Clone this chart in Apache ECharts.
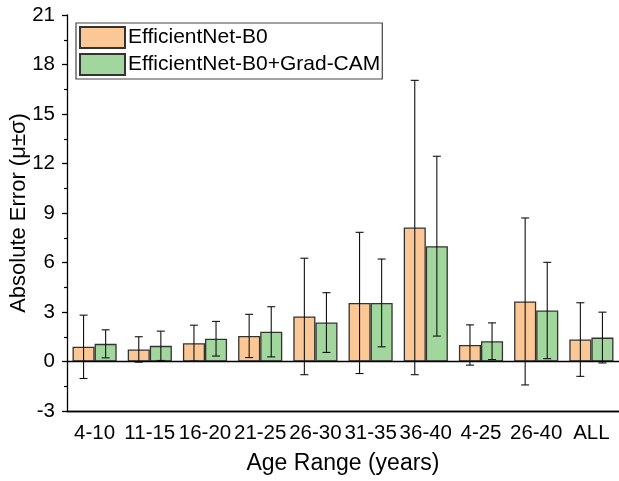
<!DOCTYPE html>
<html>
<head>
<meta charset="utf-8">
<script src="https://cdn.jsdelivr.net/npm/echarts@6/dist/echarts.min.js"></script>
<style>html,body{margin:0;padding:0;background:#fff;}#c{width:619px;height:481px;}</style>
</head>
<body>
<div id="c"></div>
<script>
const categories = ['4-10','11-15','16-20','21-25','26-30','31-35','36-40','4-25','26-40','ALL'];
const seriesNames = ['EfficientNet-B0','EfficientNet-B0+Grad-CAM'];
const b0Mean  = [0.89, 0.73, 1.11, 1.55, 2.73, 3.55, 8.12, 1.00, 3.64, 1.33];
const b0Std   = [1.92, 0.77, 1.09, 1.31, 3.53, 4.28, 8.92, 1.22, 5.06, 2.23];
const camMean = [1.07, 0.95, 1.38, 1.80, 2.36, 3.55, 6.99, 1.23, 3.09, 1.45];
const camStd  = [0.85, 0.89, 1.05, 1.52, 1.81, 2.66, 5.45, 1.11, 2.92, 1.54];
const yTicks = [-3, 0, 3, 6, 9, 12, 15, 18, 21];

const FONT = 'Liberation Sans, Arial, sans-serif';
const chart = echarts.init(document.getElementById('c'), null, {renderer: 'canvas'});

function errData(mean, std) {
  return mean.map((m, i) => [i, m, std[i]]);
}
function errRender(offset) {
  return function (params, api) {
    const idx = api.value(0), m = api.value(1), s = api.value(2);
    const band = api.size([1, 0])[0];
    const c = api.coord([idx, m]);
    const x = c[0] + offset * band;
    const yt = api.coord([idx, m + s])[1];
    const yb = api.coord([idx, m - s])[1];
    const hw = 4;
    const st = {stroke: '#111', lineWidth: 1.1};
    return {
      type: 'group',
      children: [
        {type: 'line', shape: {x1: x, y1: yt, x2: x, y2: yb}, style: st},
        {type: 'line', shape: {x1: x - hw, y1: yt, x2: x + hw, y2: yt}, style: st},
        {type: 'line', shape: {x1: x - hw, y1: yb, x2: x + hw, y2: yb}, style: st}
      ]
    };
  };
}

const axisLineStyle = {color: '#000', width: 1.3};

chart.setOption({
  animation: false,
  backgroundColor: '#fff',
  textStyle: {fontFamily: FONT},
  grid: {left: 67, right: 0, top: 15, bottom: 70, containLabel: false, outerBoundsMode: 'none'},
  legend: {
    data: seriesNames,
    orient: 'vertical',
    left: 76, top: 23,
    padding: [3, 2, 3, 3],
    itemWidth: 45, itemHeight: 21, itemGap: 4,
    borderColor: '#444', borderWidth: 1.2,
    textStyle: {fontSize: 21, color: '#000', fontFamily: FONT, padding: [0, 0, 0, -2]},
    icon: 'rect'
  },
  xAxis: [{
    type: 'category',
    data: categories,
    position: 'bottom',
    axisLine: {onZero: false, lineStyle: axisLineStyle},
    axisTick: {alignWithLabel: true, length: 6, lineStyle: axisLineStyle},
    axisLabel: {fontSize: 20.5, color: '#000', margin: 12, interval: 0, hideOverlap: false, fontFamily: FONT},
    name: 'Age Range (years)',
    nameLocation: 'middle',
    nameGap: 41,
    nameMoveOverlap: false,
    nameTextStyle: {fontSize: 23, color: '#000', fontFamily: FONT}
  }, {
    type: 'category',
    data: categories,
    position: 'bottom',
    axisLine: {onZero: false, lineStyle: axisLineStyle},
    axisTick: {alignWithLabel: false, length: 3, lineStyle: axisLineStyle},
    axisLabel: {show: false}
  }],
  yAxis: {
    type: 'value',
    min: yTicks[0], max: yTicks[yTicks.length - 1], interval: 3,
    axisLine: {show: true, lineStyle: axisLineStyle},
    axisTick: {show: true, length: 5, lineStyle: axisLineStyle},
    minorTick: {show: true, splitNumber: 2, length: 3, lineStyle: {color: '#000', width: 1.2}},
    splitLine: {show: false},
    axisLabel: {fontSize: 20.5, color: '#000', margin: 12, fontFamily: FONT},
    name: 'Absolute Error (\u03bc\u00b1\u03c3)',
    nameLocation: 'middle',
    nameGap: 37,
    nameMoveOverlap: false,
    nameTextStyle: {fontSize: 22, color: '#000', fontFamily: FONT}
  },
  series: [{
    name: seriesNames[0],
    type: 'bar',
    data: b0Mean,
    barWidth: '40%',
    barGap: '0%',
    itemStyle: {color: '#FBC895', borderColor: '#333', borderWidth: 1.3},
    markLine: {
      silent: true, symbol: 'none', label: {show: false},
      lineStyle: {color: '#000', width: 1.3, type: 'solid'},
      data: [{yAxis: 0}]
    },
    z: 2
  }, {
    name: seriesNames[1],
    type: 'bar',
    data: camMean,
    barWidth: '40%',
    barGap: '0%',
    itemStyle: {color: '#A1D79C', borderColor: '#333', borderWidth: 1.3},
    z: 2
  }, {
    type: 'custom',
    name: 'err0',
    data: errData(b0Mean, b0Std),
    renderItem: errRender(-0.2),
    encode: {x: 0, y: [1]},
    z: 5
  }, {
    type: 'custom',
    name: 'err1',
    data: errData(camMean, camStd),
    renderItem: errRender(0.2),
    encode: {x: 0, y: [1]},
    z: 5
  }]
});
</script>
</body>
</html>
